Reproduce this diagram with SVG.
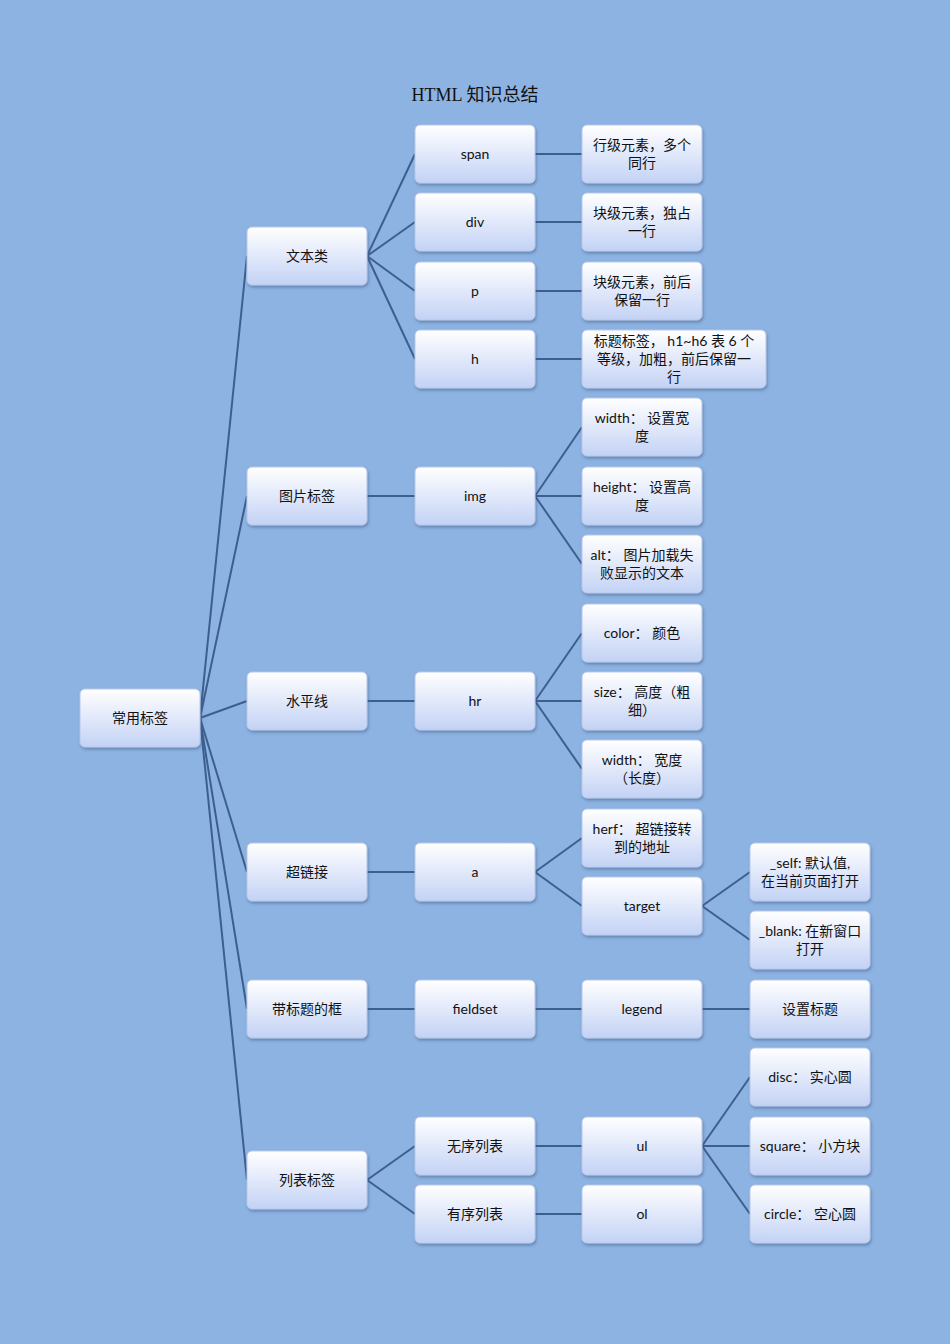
<svg xmlns="http://www.w3.org/2000/svg" width="950" height="1344" viewBox="0 0 950 1344">
<defs>
<linearGradient id="g" x1="0" y1="0" x2="0" y2="1"><stop offset="0" stop-color="#ffffff"/><stop offset="1" stop-color="#c3d2f5"/></linearGradient>
<filter id="sh" x="-10%" y="-10%" width="130%" height="140%"><feDropShadow dx="1" dy="2" stdDeviation="1.5" flood-color="#3a5a85" flood-opacity="0.5"/></filter>
<style>
.n rect{fill:url(#g);stroke:#b8c8ea;stroke-width:1;filter:url(#sh)}
.n text{font-family:Lato,"Noto Sans CJK SC",sans-serif;font-size:14px;fill:#111;text-anchor:middle}
.c line{stroke:#3d5f8e;stroke-width:2}
</style>
</defs>
<rect width="950" height="1344" fill="#8db3e2"/>
<text x="475" y="101" font-family="'Liberation Serif','Noto Sans CJK SC',serif" font-size="18" text-anchor="middle" fill="#111">HTML 知识总结</text>
<g class="c">
<line x1="200" y1="718" x2="247" y2="256"/><line x1="200" y1="718" x2="247" y2="496"/><line x1="200" y1="718" x2="247" y2="701"/><line x1="200" y1="718" x2="247" y2="872"/><line x1="200" y1="718" x2="247" y2="1009"/><line x1="200" y1="718" x2="247" y2="1180"/>
<line x1="367" y1="256" x2="415" y2="154"/><line x1="367" y1="256" x2="415" y2="222"/><line x1="367" y1="256" x2="415" y2="291"/><line x1="367" y1="256" x2="415" y2="359"/>
<line x1="535" y1="154" x2="582" y2="154"/><line x1="535" y1="222" x2="582" y2="222"/><line x1="535" y1="291" x2="582" y2="291"/><line x1="535" y1="359" x2="582" y2="359"/>
<line x1="367" y1="496" x2="415" y2="496"/><line x1="535" y1="496" x2="582" y2="427"/><line x1="535" y1="496" x2="582" y2="496"/><line x1="535" y1="496" x2="582" y2="564"/>
<line x1="367" y1="701" x2="415" y2="701"/><line x1="535" y1="701" x2="582" y2="633"/><line x1="535" y1="701" x2="582" y2="701"/><line x1="535" y1="701" x2="582" y2="769"/>
<line x1="367" y1="872" x2="415" y2="872"/><line x1="535" y1="872" x2="582" y2="838"/><line x1="535" y1="872" x2="582" y2="906"/><line x1="702" y1="906" x2="750" y2="872"/><line x1="702" y1="906" x2="750" y2="940"/>
<line x1="367" y1="1009" x2="415" y2="1009"/><line x1="535" y1="1009" x2="582" y2="1009"/><line x1="702" y1="1009" x2="750" y2="1009"/>
<line x1="367" y1="1180" x2="415" y2="1146"/><line x1="367" y1="1180" x2="415" y2="1214"/><line x1="535" y1="1146" x2="582" y2="1146"/><line x1="535" y1="1214" x2="582" y2="1214"/>
<line x1="702" y1="1146" x2="750" y2="1077"/><line x1="702" y1="1146" x2="750" y2="1146"/><line x1="702" y1="1146" x2="750" y2="1214"/>
</g>
<g id="root" class="n"><rect x="80" y="689" width="120" height="58" rx="5"/><text x="140" y="723">常用标签</text></g>
<g id="wenben" class="n"><rect x="247" y="227" width="120" height="58" rx="5"/><text x="307" y="261">文本类</text></g>
<g id="tupian" class="n"><rect x="247" y="467" width="120" height="58" rx="5"/><text x="307" y="501">图片标签</text></g>
<g id="shuiping" class="n"><rect x="247" y="672" width="120" height="58" rx="5"/><text x="307" y="706">水平线</text></g>
<g id="chaolianjie" class="n"><rect x="247" y="843" width="120" height="58" rx="5"/><text x="307" y="877">超链接</text></g>
<g id="kuang" class="n"><rect x="247" y="980" width="120" height="58" rx="5"/><text x="307" y="1014">带标题的框</text></g>
<g id="liebiao" class="n"><rect x="247" y="1151" width="120" height="58" rx="5"/><text x="307" y="1185">列表标签</text></g>
<g id="span" class="n"><rect x="415" y="125" width="120" height="58" rx="5"/><text x="475" y="159">span</text></g>
<g id="div" class="n"><rect x="415" y="193" width="120" height="58" rx="5"/><text x="475" y="227">div</text></g>
<g id="p" class="n"><rect x="415" y="262" width="120" height="58" rx="5"/><text x="475" y="296">p</text></g>
<g id="h" class="n"><rect x="415" y="330" width="120" height="58" rx="5"/><text x="475" y="364">h</text></g>
<g id="span-d" class="n"><rect x="582" y="125" width="120" height="58" rx="5"/><text x="642" y="150">行级元素，多个<tspan x="642" dy="18">同行</tspan></text></g>
<g id="div-d" class="n"><rect x="582" y="193" width="120" height="58" rx="5"/><text x="642" y="218">块级元素，独占<tspan x="642" dy="18">一行</tspan></text></g>
<g id="p-d" class="n"><rect x="582" y="262" width="120" height="58" rx="5"/><text x="642" y="287">块级元素，前后<tspan x="642" dy="18">保留一行</tspan></text></g>
<g id="h-d" class="n"><rect x="582" y="330" width="184" height="58" rx="5"/><text x="674" y="346">标题标签， h1~h6 表 6 个<tspan x="674" dy="18">等级，加粗，前后保留一</tspan><tspan x="674" dy="18">行</tspan></text></g>
<g id="img" class="n"><rect x="415" y="467" width="120" height="58" rx="5"/><text x="475" y="501">img</text></g>
<g id="img-w" class="n"><rect x="582" y="398" width="120" height="58" rx="5"/><text x="642" y="423">width： 设置宽<tspan x="642" dy="18">度</tspan></text></g>
<g id="img-h" class="n"><rect x="582" y="467" width="120" height="58" rx="5"/><text x="642" y="492">height： 设置高<tspan x="642" dy="18">度</tspan></text></g>
<g id="img-a" class="n"><rect x="582" y="535" width="120" height="58" rx="5"/><text x="642" y="560">alt： 图片加载失<tspan x="642" dy="18">败显示的文本</tspan></text></g>
<g id="hr" class="n"><rect x="415" y="672" width="120" height="58" rx="5"/><text x="475" y="706">hr</text></g>
<g id="hr-c" class="n"><rect x="582" y="604" width="120" height="58" rx="5"/><text x="642" y="638">color： 颜色</text></g>
<g id="hr-s" class="n"><rect x="582" y="672" width="120" height="58" rx="5"/><text x="642" y="697">size： 高度（粗<tspan x="642" dy="18">细）</tspan></text></g>
<g id="hr-w" class="n"><rect x="582" y="740" width="120" height="58" rx="5"/><text x="642" y="765">width： 宽度<tspan x="642" dy="18">（长度）</tspan></text></g>
<g id="a" class="n"><rect x="415" y="843" width="120" height="58" rx="5"/><text x="475" y="877">a</text></g>
<g id="herf" class="n"><rect x="582" y="809" width="120" height="58" rx="5"/><text x="642" y="834">herf： 超链接转<tspan x="642" dy="18">到的地址</tspan></text></g>
<g id="target" class="n"><rect x="582" y="877" width="120" height="58" rx="5"/><text x="642" y="911">target</text></g>
<g id="self" class="n"><rect x="750" y="843" width="120" height="58" rx="5"/><text x="810" y="868">_self: 默认值,<tspan x="810" dy="18">在当前页面打开</tspan></text></g>
<g id="blank" class="n"><rect x="750" y="911" width="120" height="58" rx="5"/><text x="810" y="936">_blank: 在新窗口<tspan x="810" dy="18">打开</tspan></text></g>
<g id="fieldset" class="n"><rect x="415" y="980" width="120" height="58" rx="5"/><text x="475" y="1014">fieldset</text></g>
<g id="legend" class="n"><rect x="582" y="980" width="120" height="58" rx="5"/><text x="642" y="1014">legend</text></g>
<g id="biaoti" class="n"><rect x="750" y="980" width="120" height="58" rx="5"/><text x="810" y="1014">设置标题</text></g>
<g id="wuxu" class="n"><rect x="415" y="1117" width="120" height="58" rx="5"/><text x="475" y="1151">无序列表</text></g>
<g id="youxu" class="n"><rect x="415" y="1185" width="120" height="58" rx="5"/><text x="475" y="1219">有序列表</text></g>
<g id="ul" class="n"><rect x="582" y="1117" width="120" height="58" rx="5"/><text x="642" y="1151">ul</text></g>
<g id="ol" class="n"><rect x="582" y="1185" width="120" height="58" rx="5"/><text x="642" y="1219">ol</text></g>
<g id="disc" class="n"><rect x="750" y="1048" width="120" height="58" rx="5"/><text x="810" y="1082">disc： 实心圆</text></g>
<g id="square" class="n"><rect x="750" y="1117" width="120" height="58" rx="5"/><text x="810" y="1151">square： 小方块</text></g>
<g id="circle" class="n"><rect x="750" y="1185" width="120" height="58" rx="5"/><text x="810" y="1219">circle： 空心圆</text></g>
</svg>
